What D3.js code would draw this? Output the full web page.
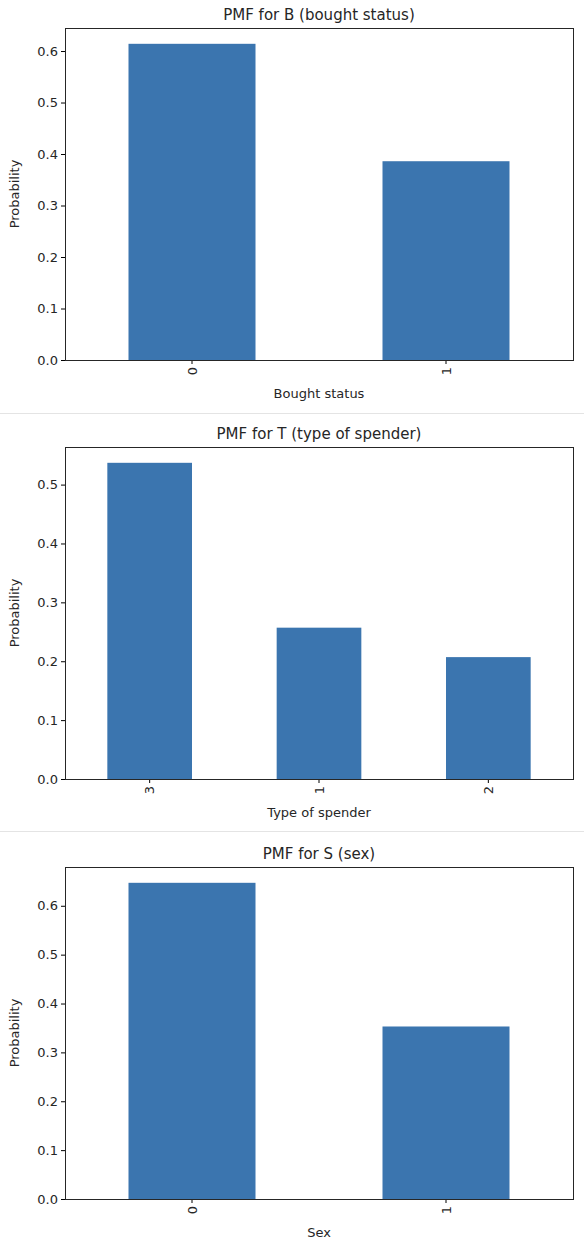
<!DOCTYPE html>
<html><head><meta charset="utf-8">
<script src="https://cdn.jsdelivr.net/npm/d3@7"></script>
<style>body{margin:0;background:#fff}text{font-family:"DejaVu Sans",sans-serif;fill:#262626}</style>
</head><body>
<svg id="c" width="584" height="1242"></svg>
<script>
const titles = ["PMF for B (bought status)", "PMF for T (type of spender)", "PMF for S (sex)"];
const xLabels = ["Bought status", "Type of spender", "Sex"];
const catsB = ["0", "1"], valsB = [0.614, 0.386];
const catsT = ["3", "1", "2"], valsT = [0.537, 0.257, 0.207];
const catsS = ["0", "1"], valsS = [0.647, 0.353];
const yTicks = [0, 0.1, 0.2, 0.3, 0.4, 0.5, 0.6];

const panels = [
  {cats: catsB, vals: valsB, off: 0},
  {cats: catsT, vals: valsT, off: 419},
  {cats: catsS, vals: valsS, off: 839}
];
const svg = d3.select("#c");
[413, 831].forEach(y => svg.append("line").attr("x1",0).attr("x2",584).attr("y1",y+0.5).attr("y2",y+0.5).attr("stroke","#e4e4e4"));
const L = 65, R = 573, T = 28, B = 360;
panels.forEach((p, i) => {
  const g = svg.append("g").attr("transform", `translate(0,${p.off})`);
  const x = d3.scaleBand().domain(p.cats).range([L, R]).paddingInner(0.5).paddingOuter(0.25);
  const y = d3.scaleLinear().domain([0, d3.max(p.vals) * 1.05]).range([B, T]);
  g.selectAll("rect").data(p.cats).join("rect")
    .attr("x", d => x(d)).attr("width", x.bandwidth())
    .attr("y", (d, j) => y(p.vals[j])).attr("height", (d, j) => B - y(p.vals[j]))
    .attr("fill", "#3b75af");
  const ya = g.append("g").attr("transform", `translate(${L},0)`)
    .call(d3.axisLeft(y).tickValues(yTicks.filter(t => t <= y.domain()[1])).tickFormat(d3.format(".1f")).tickSizeOuter(0).tickSize(4));
  ya.selectAll("text").style("font-size", "13px");
  const xa = g.append("g").attr("transform", `translate(0,${B})`)
    .call(d3.axisBottom(x).tickSizeOuter(0).tickSize(4));
  xa.selectAll("text").style("font-size", "13px").attr("transform", "rotate(-90)")
    .attr("text-anchor", "end").attr("x", -7).attr("y", 0).attr("dy", "0.35em");
  g.selectAll(".domain").remove();
  g.append("rect").attr("x", L + 0.5).attr("y", T + 0.5).attr("width", R - L).attr("height", B - T)
    .attr("fill", "none").attr("stroke", "#262626").attr("stroke-width", 1);
  g.append("text").attr("x", (L + R) / 2).attr("y", T - 8).attr("text-anchor", "middle").style("font-size", "15px").text(titles[i]);
  g.append("text").attr("x", (L + R) / 2).attr("y", B + 38).attr("text-anchor", "middle").style("font-size", "13px").text(xLabels[i]);
  g.append("text").attr("transform", `translate(19,${(T + B) / 2}) rotate(-90)`).attr("text-anchor", "middle").style("font-size", "13px").text("Probability");
});
</script></body></html>
